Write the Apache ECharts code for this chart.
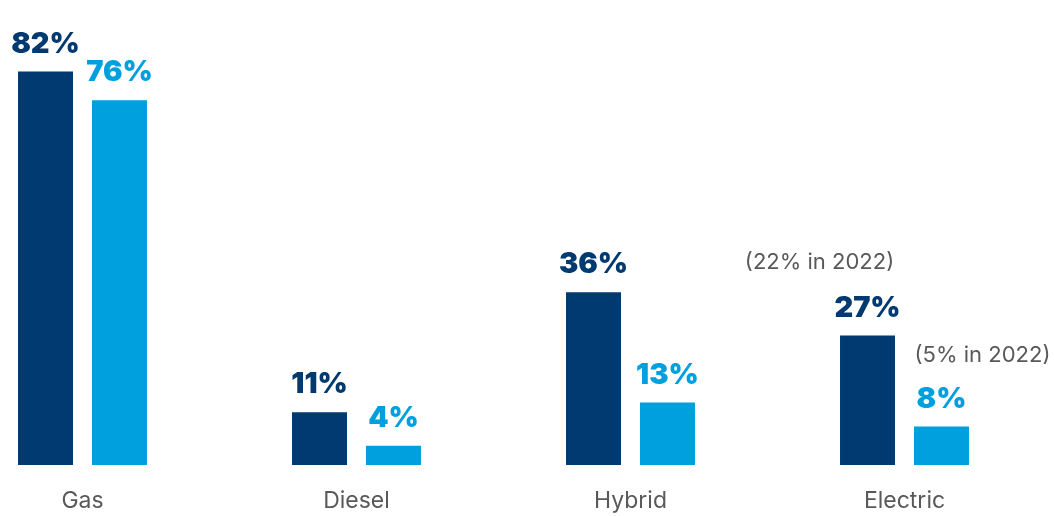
<!DOCTYPE html>
<html>
<head>
<meta charset="utf-8">
<script src="https://cdn.jsdelivr.net/npm/echarts@6/dist/echarts.min.js"></script>
<style>
html,body{margin:0;padding:0;background:#fff;}
#chart{width:1054px;height:516px;}
</style>
</head>
<body>
<div id="chart"></div>
<script>
const categories = ['Gas', 'Diesel', 'Hybrid', 'Electric'];
const seriesA = [82, 11, 36, 27];
const seriesB = [76, 4, 13, 8];
const notesA = [{ cat: 'Electric', value: 27, text: '(22% in 2022)' }];
const notesB = [{ cat: 'Electric', value: 8, text: '(5% in 2022)' }];

const DARK = '#003A70';
const LIGHT = '#00A0DF';
const GREY = '#58595B';
const FONT = 'Inter, "Noto Sans", sans-serif';

function noteMark(notes, offset) {
  return {
    symbol: 'circle', symbolSize: 0, silent: true,
    label: {
      show: true, position: 'inside', offset: offset,
      formatter: p => p.name, color: GREY, fontFamily: FONT,
      fontSize: 22, fontWeight: 400
    },
    data: notes.map(n => ({ name: n.text, coord: [n.cat, n.value] }))
  };
}

const chart = echarts.init(document.getElementById('chart'));
chart.setOption({
  animation: false,
  grid: { left: -54.5, width: 1096, top: 33, bottom: 51, outerBoundsMode: 'none', containLabel: false },
  xAxis: {
    type: 'category', data: categories,
    axisLine: { show: false }, axisTick: { show: false },
    axisLabel: { color: GREY, fontSize: 23, fontFamily: FONT, margin: 25 }
  },
  yAxis: { type: 'value', min: 0, max: 90, show: false, splitLine: { show: false } },
  series: [
    {
      type: 'bar', data: seriesA, barWidth: 55, barGap: '34.5%',
      itemStyle: { color: DARK },
      label: { show: true, position: 'top', distance: 13, formatter: '{c}%',
        color: DARK, fontSize: 29, fontWeight: 900, fontFamily: FONT },
      markPoint: noteMark(notesA, [-48, -73])
    },
    {
      type: 'bar', data: seriesB, barWidth: 55,
      itemStyle: { color: LIGHT },
      label: { show: true, position: 'top', distance: 13, formatter: '{c}%',
        color: LIGHT, fontSize: 29, fontWeight: 900, fontFamily: FONT },
      markPoint: noteMark(notesB, [41, -71])
    }
  ]
});
</script>
</body>
</html>
